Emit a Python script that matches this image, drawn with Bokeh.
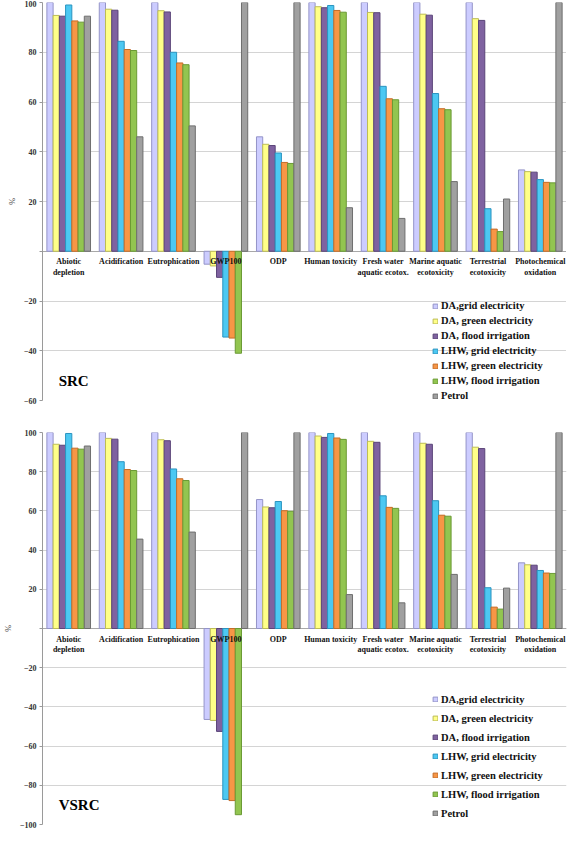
from bokeh.plotting import figure
from bokeh.models import FactorRange, Range1d, ColumnDataSource
from bokeh.transform import dodge
from bokeh.layouts import column
from bokeh.core.properties import value
from bokeh.embed import file_html
from bokeh.resources import INLINE

categories = ["Abiotic depletion", "Acidification", "Eutrophication", "GWP100", "ODP",
              "Human toxicity", "Fresh water aquatic ecotox.", "Marine aquatic ecotoxicity",
              "Terrestrial ecotoxicity", "Photochemical oxidation"]
category_labels = ["Abiotic\ndepletion", "Acidification", "Eutrophication", "GWP100", "ODP",
                   "Human toxicity", "Fresh water\naquatic ecotox.", "Marine aquatic\necotoxicity",
                   "Terrestrial\necotoxicity", "Photochemical\noxidation"]
series_names = ["DA,grid electricity", "DA, green electricity", "DA, flood irrigation",
                "LHW, grid electricity", "LHW, green electricity", "LHW, flood irrigation", "Petrol"]
series_fill = ["#CCCCFF", "#FFFF88", "#7F62A0", "#4CC8F2", "#F79646", "#92C550", "#A0A0A0"]
series_line = ["#9494C8", "#BDBD55", "#5A4478", "#2A94C0", "#C46C28", "#6A9A34", "#6E6E6E"]

# SRC panel (%)
src_da_grid = [100, 100, 100, -5.2, 46.0, 100, 100, 100, 100, 32.7]
src_da_green = [94.8, 97.3, 96.7, -5.9, 43.0, 98.3, 96.0, 95.3, 93.5, 32.0]
src_da_flood = [94.5, 96.9, 96.2, -10.5, 42.5, 97.9, 95.9, 94.9, 92.8, 31.8]
src_lhw_grid = [99.0, 84.4, 80.0, -34.5, 39.5, 98.8, 66.3, 63.4, 17.1, 28.8]
src_lhw_green = [92.6, 81.1, 75.7, -34.9, 35.7, 96.8, 61.3, 57.3, 8.9, 27.7]
src_lhw_flood = [92.1, 80.7, 75.0, -41.0, 35.3, 96.1, 60.9, 56.9, 7.9, 27.5]
src_petrol = [94.5, 46.0, 50.4, 100, 100, 17.5, 13.2, 28.0, 21.0, 100]

# VSRC panel (%)
vsrc_da_grid = [100, 100, 100, -46.4, 65.8, 100, 100, 100, 100, 33.5]
vsrc_da_green = [94.0, 97.0, 96.3, -46.9, 62.0, 98.2, 95.5, 94.5, 92.5, 32.5]
vsrc_da_flood = [93.5, 96.6, 95.8, -52.5, 61.6, 97.5, 95.0, 94.0, 91.8, 32.3]
vsrc_lhw_grid = [99.5, 85.1, 81.4, -87.2, 64.8, 99.5, 67.7, 65.2, 20.8, 29.6]
vsrc_lhw_green = [92.0, 81.1, 76.4, -87.8, 60.1, 97.2, 61.8, 57.8, 10.9, 28.3]
vsrc_lhw_flood = [91.5, 80.6, 75.5, -95.0, 59.8, 96.5, 61.3, 57.3, 9.9, 28.1]
vsrc_petrol = [93.1, 45.6, 49.2, 100, 100, 17.3, 13.1, 27.6, 20.6, 100]

src_ticks = [-60, -40, -20, 0, 20, 40, 60, 80, 100]
vsrc_ticks = [-100, -80, -60, -40, -20, 0, 20, 40, 60, 80, 100]

SERIF = "Liberation Serif"


def make_panel(values, ymin, ymax, ticks, panel_name, frame_h, top_b, bot_b,
               leg_y, leg_label_h, leg_spacing, name_y):
    p = figure(x_range=FactorRange(*categories), y_range=Range1d(ymin, ymax),
               frame_width=524, frame_height=frame_h, output_backend="svg",
               toolbar_location=None, x_axis_location=None,
               min_border_left=8, min_border_right=4,
               min_border_top=top_b, min_border_bottom=bot_b)
    p.outline_line_color = None
    p.background_fill_color = "white"
    p.xgrid.grid_line_color = None
    p.ygrid.grid_line_color = "#D4D4D4"
    p.ygrid.ticker = ticks
    p.yaxis.ticker = ticks
    p.yaxis.major_label_overrides = {0: ""}
    p.yaxis.axis_line_color = "#9A9A9A"
    p.yaxis.major_tick_line_color = "#9A9A9A"
    p.yaxis.major_tick_out = 3
    p.yaxis.major_tick_in = 0
    p.yaxis.minor_tick_line_color = None
    p.yaxis.major_label_text_font = SERIF
    p.yaxis.major_label_text_font_style = "bold"
    p.yaxis.major_label_text_font_size = "8px"
    p.yaxis.major_label_text_color = "#333333"
    p.yaxis.major_label_standoff = 3
    p.yaxis.axis_label = "%"
    p.yaxis.axis_label_text_font = SERIF
    p.yaxis.axis_label_text_font_size = "8px"
    p.yaxis.axis_label_text_font_style = "normal"
    p.yaxis.axis_label_standoff = 4

    # zero line
    p.hspan(y=[0], line_color="#A8A8A8", line_width=1)

    data = {"cat": categories}
    for i, v in enumerate(values):
        data[f"s{i}"] = v
    source = ColumnDataSource(data)
    bw = 0.119
    for i, name in enumerate(series_names):
        off = (i - 3) * bw
        p.vbar(x=dodge("cat", off, range=p.x_range), top=f"s{i}", width=bw,
               source=source, fill_color=series_fill[i], line_color=series_line[i],
               line_width=1, legend_label=name)

    # category labels under the zero line (drawn over the bars, as in the original)
    p.text(x=categories, y=[0] * len(categories), text=category_labels,
           text_font=value(SERIF), text_font_style="bold", text_font_size="8px",
           text_align="center", text_baseline="top", y_offset=6,
           text_line_height=1.15, text_color="#111111")

    p.text(x=[categories[0]], y=[name_y], text=[panel_name], x_offset=-10,
           text_font=value(SERIF), text_font_style="bold", text_font_size="15px",
           text_align="left", text_baseline="middle", text_color="black")

    lg = p.legend[0]
    lg.location = (390, leg_y)
    lg.background_fill_alpha = 0
    lg.border_line_alpha = 0
    lg.padding = 0
    lg.margin = 0
    lg.spacing = leg_spacing
    lg.label_height = leg_label_h
    lg.glyph_height = 6
    lg.glyph_width = 6
    lg.label_standoff = 3
    lg.label_text_font = SERIF
    lg.label_text_font_style = "bold"
    lg.label_text_font_size = "10.5px"
    lg.label_text_color = "#111111"
    return p


top = make_panel([src_da_grid, src_da_green, src_da_flood, src_lhw_grid,
                  src_lhw_green, src_lhw_flood, src_petrol],
                 -60, 100, src_ticks, "SRC", 398, 2, 12, -2, 13, 2, -52)
bottom = make_panel([vsrc_da_grid, vsrc_da_green, vsrc_da_flood, vsrc_lhw_grid,
                     vsrc_lhw_green, vsrc_lhw_flood, vsrc_petrol],
                    -100, 100, vsrc_ticks, "VSRC", 392, 20, 8, 3, 16, 3, -90)

layout = column(top, bottom, spacing=0)
open("out.html", "w").write(file_html(layout, INLINE))
